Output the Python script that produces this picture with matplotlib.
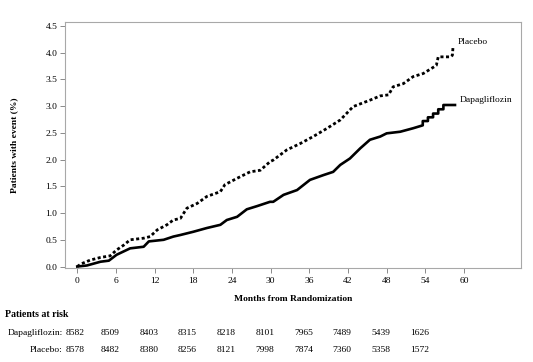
import matplotlib.pyplot as plt
import matplotlib.transforms as mtransforms

plt.rcParams["font.family"] = ["Liberation Serif", "DejaVu Serif"]

# cumulative incidence (months, %)
placebo_t = [0, 0.6, 2, 3.6, 5.1, 6.1, 7.2, 8.2, 10.3, 11.3, 12.4, 13.9, 14.9, 16.0, 17.0,
             18.6, 20.1, 22.2, 22.9, 24.8, 26.8, 28.4, 29.9, 30.4, 32.5, 34.6, 36.6,
             38.7, 40.8, 42.8, 45.4, 47.0, 48.3, 49.0, 50.6, 52.1, 53.7, 55.3, 55.7,
             56.0, 57.9, 58.2, 58.3]
placebo_v = [0.0, 0.05, 0.12, 0.17, 0.20, 0.31, 0.40, 0.50, 0.53, 0.56, 0.685, 0.78, 0.87, 0.90, 1.09,
             1.18, 1.31, 1.40, 1.53, 1.65, 1.77, 1.80, 1.96, 1.99, 2.18, 2.30, 2.43,
             2.58, 2.74, 2.99, 3.11, 3.19, 3.21, 3.36, 3.42, 3.55, 3.61, 3.73, 3.76,
             3.92, 3.92, 3.95, 4.12]

dapa_t = [0, 1.5, 3.6, 4.9, 6.1, 8.2, 10.3, 11.1, 13.4, 14.9, 16.0, 18.0, 20.1, 22.2,
          23.2, 24.8, 26.3, 27.9, 29.9, 30.4, 32.0, 34.1, 36.1, 38.2, 39.7, 40.8, 42.3,
          43.9, 45.4, 47.0, 48.0, 50.1, 52.1, 53.6, 53.6, 54.4, 54.4, 55.2, 55.2,
          56.0, 56.0, 56.8, 56.8, 58.6]
dapa_v = [0.0, 0.02, 0.09, 0.11, 0.22, 0.34, 0.37, 0.47, 0.50, 0.56, 0.59, 0.65, 0.72, 0.78,
          0.87, 0.93, 1.07, 1.13, 1.21, 1.21, 1.34, 1.43, 1.62, 1.71, 1.77, 1.90, 2.02,
          2.21, 2.37, 2.43, 2.49, 2.52, 2.585, 2.64, 2.72, 2.72, 2.79, 2.79, 2.86,
          2.86, 2.94, 2.94, 3.02, 3.02]

risk_months = [0, 6, 12, 18, 24, 30, 36, 42, 48, 54]
risk_dapa = [8582, 8509, 8403, 8315, 8218, 8101, 7965, 7489, 5439, 1626]
risk_placebo = [8578, 8482, 8380, 8256, 8121, 7998, 7874, 7360, 5358, 1572]

fs = 6.8
fig = plt.figure(figsize=(5.33, 3.62), dpi=100)
ax = fig.add_axes([0.122, 0.26, 0.855, 0.679])

ax.plot(placebo_t, placebo_v, color="black", lw=2.0, linestyle=(0, (1.1, 0.9)))
ax.plot(dapa_t, dapa_v, color="black", lw=1.9)

ax.text(59.0, 4.2, "Placebo", fontsize=fs, va="center", ha="left")
ax.text(59.3, 3.12, "Dapagliflozin", fontsize=fs, va="center", ha="left")

ax.set_xlim(-1.9, 68.8)
ax.set_ylim(-0.025, 4.57)
ax.set_xticks(range(0, 61, 6))
ax.set_yticks([i * 0.5 for i in range(10)])
ax.set_yticklabels([f"{i * 0.5:.1f}" for i in range(10)])
ax.tick_params(labelsize=fs, length=3.5, width=0.6, color="#777777", pad=2)
ax.tick_params(axis="x", pad=3)
for s in ax.spines.values():
    s.set_color("#a8a8a8")
    s.set_linewidth(0.8)

ax.set_ylabel("Patients with event (%)", fontsize=fs, fontweight="bold", labelpad=20)
ax.set_xlabel("Months from Randomization", fontsize=fs, fontweight="bold", labelpad=7)

trans = mtransforms.blended_transform_factory(ax.transData, fig.transFigure)
fig.text(0.01, 0.130, "Patients at risk", fontsize=fs + 0.3, fontweight="bold",
         va="center", ha="left")
fig.text(0.118, 0.080, "Dapagliflozin:", fontsize=fs, va="center", ha="right")
fig.text(0.118, 0.033, "Placebo:", fontsize=fs, va="center", ha="right")
for m, d, p in zip(risk_months, risk_dapa, risk_placebo):
    xp = m - 0.9 if m > 0 else m - 0.3
    ax.text(xp, 0.080, str(d), transform=trans, fontsize=fs, ha="center", va="center")
    ax.text(xp, 0.033, str(p), transform=trans, fontsize=fs, ha="center", va="center")

fig.savefig("out.png", dpi=100)
